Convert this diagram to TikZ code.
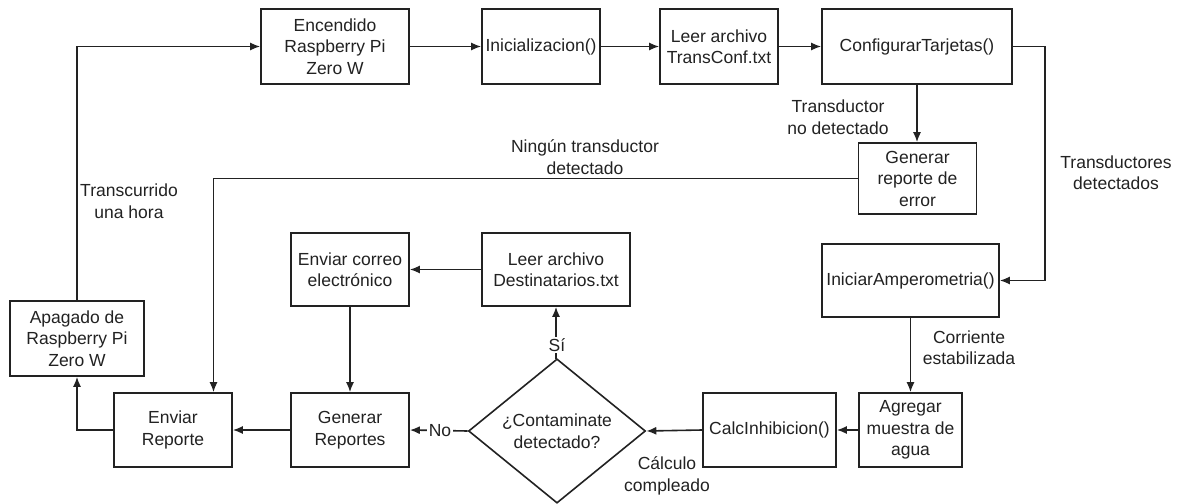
\documentclass[tikz,border=0pt]{standalone}
\usepackage{fontspec}
\setmainfont{Liberation Sans}
\usetikzlibrary{arrows.meta,shapes.geometric}
\definecolor{ink}{HTML}{222222}
\begin{document}
\begin{tikzpicture}[x=1pt,y=-1pt,
  font=\fontsize{17.5}{21.5}\selectfont,
  box/.style={draw=ink,line width=1.6pt,align=center,inner sep=0pt,text=ink},
  decision/.style={box,diamond},
  flow/.style={draw=ink,line width=1.6pt,-{Latex[length=10pt,width=8pt]}},
  note/.style={align=center,text=ink,inner sep=1pt},
  cut/.style={fill=white,text=ink,inner sep=1.5pt}
]
\fill[white] (0,0) rectangle (1180,494);

% process boxes
\node[box,minimum width=148pt,minimum height=75pt] (enc) at (335,46.5) {Encendido\\Raspberry Pi\\Zero W};
\node[box,minimum width=118pt,minimum height=75pt] (ini) at (541,46.5) {Inicializacion()};
\node[box,minimum width=118pt,minimum height=75pt] (leer1) at (719,46.5) {Leer archivo\\TransConf.txt};
\node[box,minimum width=190pt,minimum height=75pt] (conf) at (917,46.5) {ConfigurarTarjetas()};
\node[box,minimum width=118pt,minimum height=71pt] (err) at (917.5,178.5) {Generar\\reporte de\\error};
\node[box,minimum width=177pt,minimum height=73pt] (amp) at (910.5,280.5) {IniciarAmperometria()};
\node[box,minimum width=103pt,minimum height=74pt] (agua) at (910.5,430) {Agregar\\muestra de\\agua};
\node[box,minimum width=133pt,minimum height=74pt] (calc) at (769.5,430) {CalcInhibicion()};
\node[decision,minimum width=177pt,minimum height=111pt] (dia) at (557,431) {¿Contaminate\\detectado?};
\node[box,minimum width=118pt,minimum height=74pt] (rep) at (350,430) {Generar\\Reportes};
\node[box,minimum width=118pt,minimum height=73pt] (mail) at (350,269.5) {Enviar correo\\electrónico};
\node[box,minimum width=148pt,minimum height=73pt] (dest) at (556,269.5) {Leer archivo\\Destinatarios.txt};
\node[box,minimum width=118pt,minimum height=74pt] (env) at (173,430) {Enviar\\Reporte};
\node[box,minimum width=134pt,minimum height=75pt] (apa) at (77,338.5) {Apagado de\\Raspberry Pi\\Zero W};

% bend points
\coordinate (upL) at (apa.north |- enc.west);
\coordinate (cR1) at (1045,46.5);
\coordinate (cR2) at (1045,280.5);
\coordinate (nL1) at (213.5,178.5);
\coordinate (eL) at (apa.south |- env.west);

% connectors
\draw[flow] (apa.north) -- (upL) -- (enc.west);
\draw[flow] (enc.east) -- (ini.west);
\draw[flow] (ini.east) -- (leer1.west);
\draw[flow] (leer1.east) -- (conf.west);
\draw[flow] (conf.east) -- (cR1) -- (cR2) -- (amp.east);
\draw[flow] (conf.south) -- (conf.south |- err.north);
\draw[flow] (err.west) -- (nL1) -- (nL1 |- env.north);
\draw[flow] (amp.south) -- (agua.north);
\draw[flow] (agua.west) -- (calc.east);
\draw[flow] (calc.west) -- (dia.east);
\draw[flow] (dia.north) -- (dest.south |- dia.north) -- (dest.south);
\draw[flow] (dia.west) -- (rep.east);
\draw[flow] (dest.west) -- (mail.east);
\draw[flow] (mail.south) -- (rep.north);
\draw[flow] (rep.west) -- (env.east);
\draw[flow] (env.west) -- (eL) -- (apa.south);

% labels on the lines
\node[cut] (si) at (557,345) {Sí};
\node[cut] (no) at (440,431) {No};

% free labels
\node[note] (tuh) at (129,201) {Transcurrido\\una hora};
\node[note] (ntd) at (585,157) {Ningún transductor\\detectado};
\node[note] (tnd) at (838,117) {Transductor\\no detectado};
\node[note] (tds) at (1116,172.5) {Transductores\\detectados};
\node[note] (ces) at (969,347.5) {Corriente\\estabilizada};
\node[note] (cco) at (667,476) {Cálculo\\compleado};
\end{tikzpicture}
\end{document}
